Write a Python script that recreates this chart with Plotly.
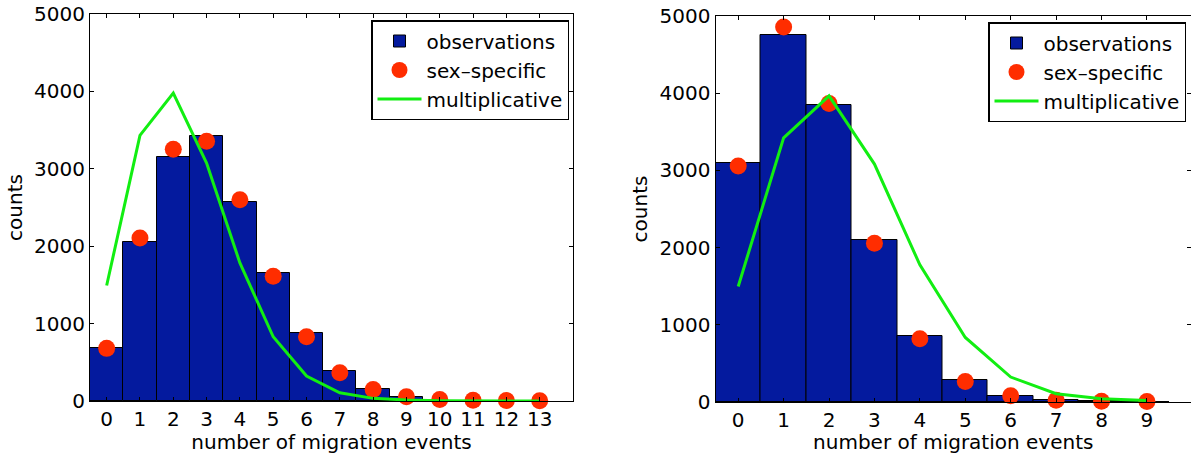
import plotly.graph_objects as go

# ---------------- data ----------------
events_left = list(range(14))
obs_left = [679, 2055, 3155, 3422, 2571, 1655, 877, 383, 159, 52]
sex_left = [680, 2107, 3254, 3357, 2601, 1612, 830, 365, 150, 56, 20, 10, 5, 3]
mult_left = [1492, 3431, 3977, 3074, 1784, 830, 322, 107, 34, 13, 4, 1, 0, 0]

events_right = list(range(10))
obs_right = [3099, 4750, 3845, 2099, 858, 280, 78, 22, 9, 4]
sex_right = [3056, 4857, 3866, 2056, 819, 267, 82, 22, 9, 6]
mult_right = [1496, 3422, 3965, 3082, 1776, 836, 323, 108, 43, 20]

y_ticks = [0, 1000, 2000, 3000, 4000, 5000]

BAR_COLOR = "#041a9e"
DOT_COLOR = "#ff2d00"
LINE_COLOR = "#12ee12"
FONT = "DejaVu Sans"
FS = 20

W, H = 1191, 454

fig = go.Figure()

def add_panel(xs, obs, sex, mult, xa, ya, legend):
    fig.add_trace(go.Bar(
        x=xs[:len(obs)], y=obs, name="observations",
        marker=dict(color=BAR_COLOR, line=dict(color="black", width=1)),
        xaxis=xa, yaxis=ya, legend=legend, width=1.0,
    ))
    fig.add_trace(go.Scatter(
        x=xs[:len(sex)], y=sex, name="sex\u2013specific", mode="markers",
        marker=dict(color=DOT_COLOR, size=17, line=dict(width=0)),
        xaxis=xa, yaxis=ya, legend=legend, cliponaxis=False,
    ))
    fig.add_trace(go.Scatter(
        x=xs[:len(mult)], y=mult, name="multiplicative", mode="lines",
        line=dict(color=LINE_COLOR, width=3),
        xaxis=xa, yaxis=ya, legend=legend, cliponaxis=False,
    ))

add_panel(events_left, obs_left, sex_left, mult_left, "x", "y", "legend")
add_panel(events_right, obs_right, sex_right, mult_right, "x2", "y2", "legend2")

tickfont = dict(family=FONT, size=FS, color="black")
titlefont = dict(family=FONT, size=FS, color="black")

common_x = dict(
    showgrid=False, zeroline=False, showline=True, linecolor="black", linewidth=1,
    ticks="inside", ticklen=4, tickcolor="black", tickfont=tickfont, automargin=False,
    title=dict(text="number of migration events", font=titlefont, standoff=0),
)
common_y = dict(
    showgrid=False, zeroline=False, showline=True, linecolor="black", linewidth=1,
    ticks="inside", ticklen=4, tickcolor="black", tickfont=tickfont, automargin=False,
    range=[0, 5000], tickvals=y_ticks,
    title=dict(text="counts", font=titlefont, standoff=6),
)

legend_common = dict(
    xanchor="right", yanchor="top",
    bgcolor="white", bordercolor="black", borderwidth=1.5,
    font=dict(family=FONT, size=FS, color="black"),
    tracegroupgap=0, itemwidth=44,
)

fig.update_layout(
    width=W, height=H,
    margin=dict(l=0, r=0, t=0, b=0, autoexpand=False),
    paper_bgcolor="white", plot_bgcolor="white",
    font=dict(family=FONT, color="black"),
    bargap=0,
    xaxis=dict(common_x, domain=[90 / W, 573 / W], range=[-0.5, 14.0],
               tickvals=events_left, mirror="ticks", anchor="y"),
    yaxis=dict(common_y, domain=[1 - 401 / H, 1 - 14 / H], mirror="ticks", anchor="x"),
    xaxis2=dict(common_x, domain=[715.5 / W, 1.0], range=[-0.5, 9.97],
                tickvals=events_right, mirror="ticks", anchor="y2"),
    yaxis2=dict(common_y, domain=[1 - 402 / H, 1 - 16 / H], mirror=False, anchor="x2"),
    yaxis3=dict(overlaying="y2", side="right", anchor="x2", range=[0, 5000],
                tickvals=y_ticks, ticks="inside", ticklen=4, tickcolor="black",
                showticklabels=False, showline=False, showgrid=False, zeroline=False,
                automargin=False),
    legend=dict(legend_common, x=569 / W, y=1 - 20 / H),
    legend2=dict(legend_common, x=1186 / W, y=1 - 22 / H),
    showlegend=True,
)

# invisible trace so the right-side tick axis renders
fig.add_trace(go.Scatter(x=[None], y=[None], xaxis="x2", yaxis="y3",
                         showlegend=False, hoverinfo="skip"))

fig.write_html(
    "out.html",
    config={"displayModeBar": False},
    post_script="document.body.style.margin='0';document.body.style.overflow='hidden';",
)
